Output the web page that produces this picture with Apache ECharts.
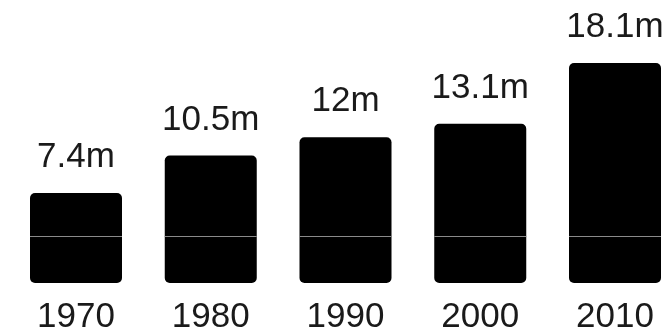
<!DOCTYPE html>
<html>
<head>
<meta charset="utf-8">
<style>
  html, body { margin: 0; padding: 0; background: #fff; }
  #chart { width: 667px; height: 335px; }
</style>
<script src="https://cdn.jsdelivr.net/npm/echarts@6/dist/echarts.min.js"></script>
</head>
<body>
<div id="chart"></div>
<script>
// Population by decade, in millions
const years = ['1970', '1980', '1990', '2000', '2010'];
const values = [7.4, 10.5, 12, 13.1, 18.1];
const valueLabels = ['7.4m', '10.5m', '12m', '13.1m', '18.1m'];
// thin rule drawn across every bar
const ruleLevel = 3.87;

const chart = echarts.init(document.getElementById('chart'), null, { renderer: 'canvas' });

const font = '"Liberation Sans", Arial, Helvetica, sans-serif';

chart.setOption({
  animation: false,
  backgroundColor: '#ffffff',
  // category centres sit on the grid edges (boundaryGap: false)
  grid: { left: 76, right: 52, top: 40, bottom: 52, containLabel: false },
  xAxis: {
    type: 'category',
    data: years,
    boundaryGap: false,
    axisLine: { show: false },
    axisTick: { show: false },
    splitLine: { show: false },
    axisLabel: {
      margin: 17,
      fontSize: 35,
      fontFamily: font,
      color: '#1a1a1a'
    }
  },
  yAxis: {
    type: 'value',
    min: 0,
    max: 20,
    show: false,
    splitLine: { show: false }
  },
  series: [
    {
      type: 'bar',
      data: values,
      barWidth: 92,
      itemStyle: { color: '#000000', borderRadius: 5 },
      label: {
        show: true,
        position: 'top',
        distance: 18,
        fontSize: 35,
        fontFamily: font,
        color: '#1a1a1a',
        formatter: p => valueLabels[p.dataIndex]
      }
    },
    {
      type: 'custom',
      data: years.map((y, i) => [i, ruleLevel]),
      z: 5,
      renderItem: function (params, api) {
        const p = api.coord([api.value(0), api.value(1)]);
        const half = 46;
        const yy = Math.round(p[1]) + 0.5;
        return {
          type: 'line',
          shape: { x1: p[0] - half, y1: yy, x2: p[0] + half, y2: yy },
          style: { stroke: '#8a8a8a', lineWidth: 1 }
        };
      }
    }
  ]
});
</script>
</body>
</html>
